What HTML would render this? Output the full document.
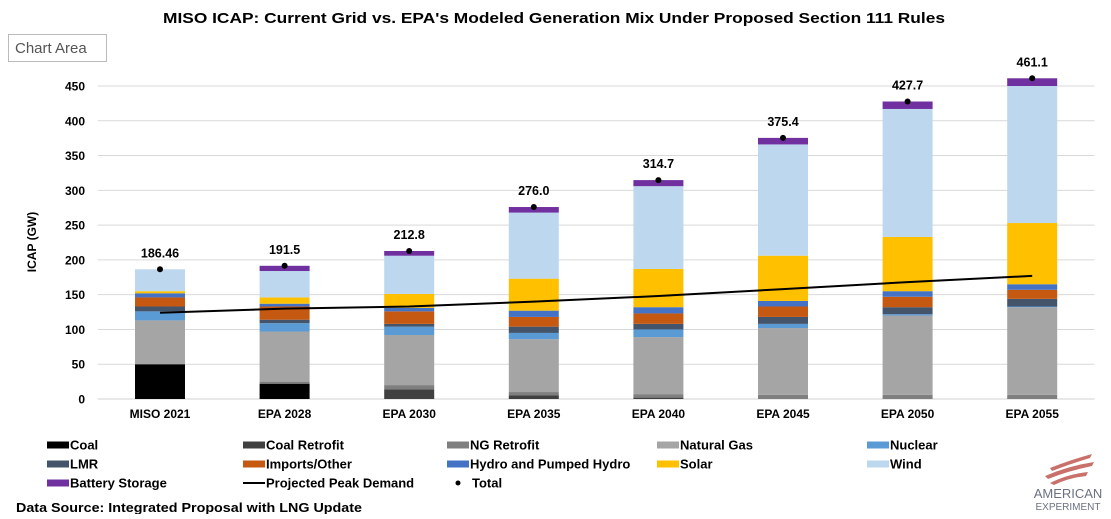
<!DOCTYPE html>
<html><head><meta charset="utf-8">
<style>
body{margin:0;background:#fff;font-family:"Liberation Sans",Arial,sans-serif;}
svg text{font-family:"Liberation Sans",Arial,sans-serif;}
</style></head>
<body>
<svg id="chart" width="1111" height="514" viewBox="0 0 1111 514" xmlns="http://www.w3.org/2000/svg">
<rect x="0" y="0" width="1111" height="514" fill="#fff"/>
<text x="163" y="23" textLength="782" lengthAdjust="spacingAndGlyphs" font-size="15" font-weight="bold" fill="#000">MISO ICAP: Current Grid vs. EPA's Modeled Generation Mix Under Proposed Section 111 Rules</text>
<g>
<rect x="8.5" y="34.5" width="98" height="27" fill="#fff" stroke="#bbb"/>
<text x="15" y="53" font-size="15" fill="#555">Chart Area</text>
</g>
<g id="grid"></g>
<g id="yticks"></g>
<text transform="translate(36,242) rotate(-90)" text-anchor="middle" font-size="12" font-weight="bold">ICAP (GW)</text>
<g id="bars"></g>
<g id="line"></g>
<g id="totals"></g>
<g id="xlabels"></g>
<g id="legend"></g>
<text x="16" y="512" textLength="346" lengthAdjust="spacingAndGlyphs" font-size="13" font-weight="bold">Data Source: Integrated Proposal with LNG Update</text>
<g>
<path d="M1050 468 Q1070 460 1092 454 L1090 458 Q1070 464 1052 471Z" fill="#c9706a"/>
<path d="M1045 476 Q1068 466 1094 462 L1092 466 Q1068 471 1048 479Z" fill="#c9706a"/>
<path d="M1050 483 Q1068 474 1088 472 L1086 476 Q1068 478 1054 485Z" fill="#c9706a"/>
<text x="1068" y="498" text-anchor="middle" font-size="13" fill="#6b7180">AMERICAN</text>
<text x="1068" y="510" text-anchor="middle" font-size="10" fill="#6b7180">EXPERIMENT</text>
</g>
</svg>
<script>
const categories = ["MISO 2021","EPA 2028","EPA 2030","EPA 2035","EPA 2040","EPA 2045","EPA 2050","EPA 2055"];
const seriesNames = ["Coal","Coal Retrofit","NG Retrofit","Natural Gas","Nuclear","LMR","Imports/Other","Hydro and Pumped Hydro","Solar","Wind","Battery Storage"];
const coal         = [50, 22, 0, 0, 0, 0, 0, 0];
const coalRetrofit = [0, 0, 14, 5, 2, 0, 0, 0];
const ngRetrofit   = [0, 3, 6, 5, 5, 6, 6, 6];
const naturalGas   = [63, 72, 72, 76, 82, 96, 114, 126];
const nuclear      = [13, 12, 12, 9, 11, 6, 2, 1];
const lmr          = [7, 5, 4, 9, 8, 10, 10, 11];
const imports      = [13, 19, 18, 14, 15, 15, 15, 13];
const hydro        = [6, 4, 5, 9, 9, 8, 8, 8];
const solar        = [3, 9, 20, 46, 55, 65, 78, 88];
const wind         = [31.46, 38, 55, 95, 119, 160, 184, 197];
const battery      = [0, 7.5, 6.8, 8, 8.7, 9.4, 10.7, 11.1];
const totalLabels  = ["186.46","191.5","212.8","276.0","314.7","375.4","427.7","461.1"];
const totals       = [186.46, 191.5, 212.8, 276.0, 314.7, 375.4, 427.7, 461.1];
const peakDemand   = [124, 130, 133, 140, 148, 158, 168, 177];
const yTicks       = [0, 50, 100, 150, 200, 250, 300, 350, 400, 450];
const colors = ["#000000","#404040","#7f7f7f","#a5a5a5","#5b9bd5","#44546a","#c65911","#4472c4","#ffc000","#bdd7ee","#7030a0"];

const series = [coal, coalRetrofit, ngRetrofit, naturalGas, nuclear, lmr, imports, hydro, solar, wind, battery];
const NS = "http://www.w3.org/2000/svg";
const plotL = 97.7, plotR = 1094.5, y0 = 399, yPerUnit = (399-86)/450;
const band = (plotR-plotL)/categories.length, barW = 50;
function y(v){ return y0 - v*yPerUnit; }
function xc(i){ return plotL + band*(i+0.5); }
function mk(tag, attrs, parent){ const e=document.createElementNS(NS,tag); for(const k in attrs) e.setAttribute(k,attrs[k]); parent.appendChild(e); return e; }

const grid=document.getElementById('grid'), yt=document.getElementById('yticks');
yTicks.forEach(t=>{
  const l=mk('line',{x1:plotL,x2:plotR,y1:y(t),y2:y(t),stroke:t===0?'#d0d0d0':'#d9d9d9','stroke-width':1},grid);
  
  
  const tx=mk('text',{x:85,y:y(t)+4.5,'text-anchor':'end','font-size':12,'font-weight':'bold'},yt);
  tx.textContent=t;
  
  
});

const bars=document.getElementById('bars');
categories.forEach((c,i)=>{
  let acc=0;
  series.forEach((s,k)=>{
    const v=s[i];
    if(v>0){
      const r=mk('rect',{x:xc(i)-barW/2,y:y(acc+v),width:barW,height:v*yPerUnit,fill:colors[k]},bars);
      
      
    }
    acc+=v;
  });
  const xl=mk('text',{x:xc(i),y:418,'text-anchor':'middle','font-size':12,'font-weight':'bold'},document.getElementById('xlabels'));
  xl.textContent=c;
  
  
});

const pts=peakDemand.map((v,i)=>xc(i)+','+y(v)).join(' ');
const pl=mk('polyline',{points:pts,fill:'none',stroke:'#000','stroke-width':2},document.getElementById('line'));



const tg=document.getElementById('totals');
totals.forEach((v,i)=>{
  const d=mk('circle',{cx:xc(i),cy:y(v),r:3},tg);
  
  
  const t=mk('text',{x:xc(i),y:y(v)-12,'text-anchor':'middle','font-size':12.5,'font-weight':'bold'},tg);
  t.textContent=totalLabels[i];
  
  
});

const legendItems=[
 ["Coal",0,0,'sw',colors[0]],["Coal Retrofit",1,0,'sw',colors[1]],["NG Retrofit",2,0,'sw',colors[2]],["Natural Gas",3,0,'sw',colors[3]],["Nuclear",4,0,'sw',colors[4]],
 ["LMR",0,1,'sw',colors[5]],["Imports/Other",1,1,'sw',colors[6]],["Hydro and Pumped Hydro",2,1,'sw',colors[7]],["Solar",3,1,'sw',colors[8]],["Wind",4,1,'sw',colors[9]],
 ["Battery Storage",0,2,'sw',colors[10]],["Projected Peak Demand",1,2,'line','#000'],["Total",2,2,'dot','#000']];
const colX=[70,266,470,680,890], rowY=[445,464,483];
const lg=document.getElementById('legend');
legendItems.forEach(it=>{
  const tx=colX[it[1]], ty=rowY[it[2]];
  let m;
  if(it[3]==='sw') m=mk('rect',{x:tx-23,y:ty-3.5,width:22,height:7,fill:it[4]},lg);
  else if(it[3]==='line') m=mk('line',{x1:tx-23,x2:tx-1,y1:ty,y2:ty,stroke:'#000','stroke-width':2},lg);
  else m=mk('circle',{cx:tx-12,cy:ty,r:2.5,fill:'#000'},lg);
  
  
  const t=mk('text',{x:it[3]==='dot'?tx+2:tx,y:ty+4.5,'font-size':13,'font-weight':'bold'},lg);
  t.textContent=it[0];
  
  
});
</script>
</body></html>
